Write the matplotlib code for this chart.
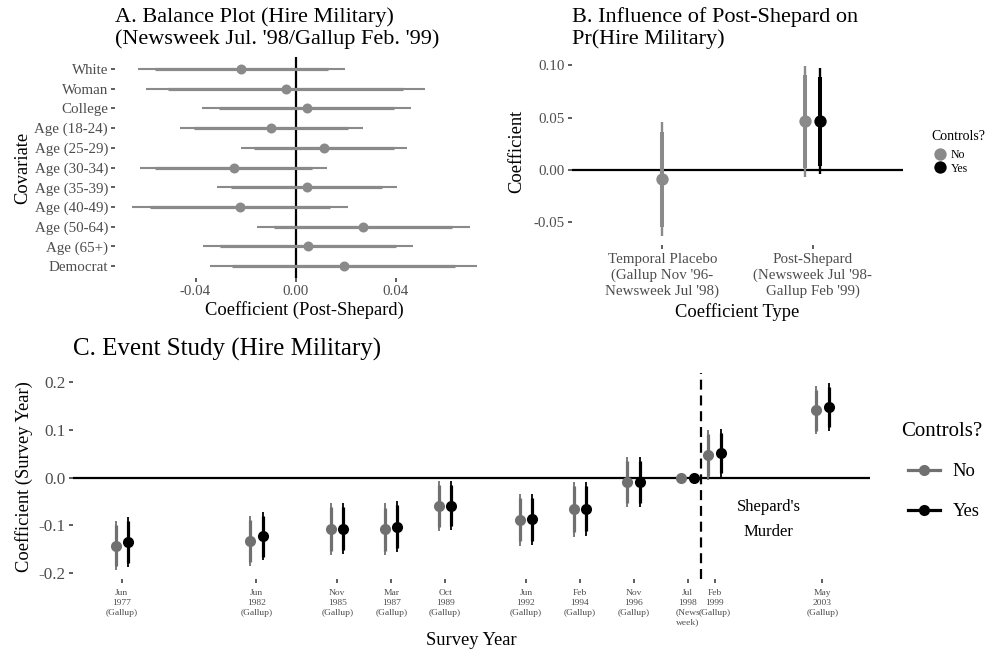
import numpy as np
import matplotlib
matplotlib.use("Agg")
import matplotlib.pyplot as plt
from matplotlib.lines import Line2D

plt.rcParams['font.family'] = ['Liberation Serif', 'DejaVu Serif']
plt.rcParams['axes.unicode_minus'] = False

GREY_A = '#8a8a8a'
GREY_C = '#707070'
TICK_GREY = '#4d4d4d'
Z90, Z95 = 1.645, 1.96

# Panel A: balance of covariates across the Jul '98 / Feb '99 surveys
covariates = ['White', 'Woman', 'College', 'Age (18-24)', 'Age (25-29)',
              'Age (30-34)', 'Age (35-39)', 'Age (40-49)', 'Age (50-64)',
              'Age (65+)', 'Democrat']
bal_est = [-0.0217, -0.0040, 0.0045, -0.0097, 0.0114, -0.0248, 0.0045,
           -0.0222, 0.0271, 0.0050, 0.0192]
bal_se = [0.0211, 0.0285, 0.0213, 0.0187, 0.0170, 0.0190, 0.0184,
          0.0220, 0.0217, 0.0215, 0.0272]

# Panel B: post-Shepard coefficient
coef_types = ["Temporal Placebo\n(Gallup Nov '96-\nNewsweek Jul '98)",
              "Post-Shepard\n(Newsweek Jul '98-\nGallup Feb '99)"]
inf_est_no = [-0.0090, 0.0465]
inf_se_no = [0.0278, 0.0272]
inf_est_yes = [np.nan, 0.0465]
inf_se_yes = [np.nan, 0.0258]

# Panel C: event study by survey
survey_year = [1977, 1982, 1985, 1987, 1989, 1992, 1994, 1996, 1998, 1999, 2003]
survey_labels = ['Jun\n1977\n(Gallup)', 'Jun\n1982\n(Gallup)',
                 'Nov\n1985\n(Gallup)', 'Mar\n1987\n(Gallup)',
                 'Oct\n1989\n(Gallup)', 'Jun\n1992\n(Gallup)',
                 'Feb\n1994\n(Gallup)', 'Nov\n1996\n(Gallup)',
                 'Jul\n1998\n(News\nweek)', 'Feb\n1999\n(Gallup)',
                 'May\n2003\n(Gallup)']
ev_est_no = [-0.1425, -0.1325, -0.1075, -0.1080, -0.0595, -0.0880,
             -0.0660, -0.0095, 0.0, 0.0470, 0.1412]
ev_se_no = [0.0259, 0.0264, 0.0276, 0.0275, 0.0266, 0.0277,
            0.0294, 0.0269, np.nan, 0.0264, 0.0259]
ev_est_yes = [-0.1352, -0.1225, -0.1070, -0.1030, -0.0590, -0.0875,
              -0.0650, -0.0100, 0.0, 0.0513, 0.1480]
ev_se_yes = [0.0264, 0.0260, 0.0272, 0.0273, 0.0262, 0.0273,
             0.0289, 0.0266, np.nan, 0.0258, 0.0259]
murder_year = 1998.5

W, H = 987, 655
fig = plt.figure(figsize=(W / 100, H / 100), dpi=100)


def px_axes(left, top, right, bottom):
    return fig.add_axes([left / W, 1 - bottom / H, (right - left) / W,
                         (bottom - top) / H])


def clean(ax):
    for s in ax.spines.values():
        s.set_visible(False)
    ax.tick_params(length=3, width=1.1, color='#333333', labelcolor=TICK_GREY,
                   labelsize=10.8, pad=2)


def pointrange(ax, pos, est, se, color, horizontal=False, ms=7.5,
               lw_in=2.3, lw_out=1.3):
    pos = np.asarray(pos, float)
    est = np.asarray(est, float)
    se = np.asarray(se, float)
    ok = ~np.isnan(se)
    lines = ax.hlines if horizontal else ax.vlines
    lines(pos[ok], est[ok] - Z95 * se[ok], est[ok] + Z95 * se[ok],
          color=color, lw=lw_out, zorder=2)
    lines(pos[ok], est[ok] - Z90 * se[ok], est[ok] + Z90 * se[ok],
          color=color, lw=lw_in, zorder=2)
    if horizontal:
        ax.plot(est, pos, 'o', color=color, ms=ms, mew=0, zorder=3)
    else:
        ax.plot(pos, est, 'o', color=color, ms=ms, mew=0, zorder=3)


# ---- A. balance plot
ax_a = px_axes(115, 57, 494, 278)
clean(ax_a)
rows = np.arange(len(covariates))
ax_a.axvline(0, color='black', lw=1.6, zorder=1)
pointrange(ax_a, rows, bal_est, bal_se, GREY_A, horizontal=True, ms=7.2,
           lw_in=2.3, lw_out=1.5)
ax_a.set_ylim(len(covariates) - 0.4, -0.6)
ax_a.margins(x=0.05)
ax_a.set_yticks(rows, covariates)
ax_a.set_xticks([-0.04, 0.0, 0.04], ['-0.04', '0.00', '0.04'])
ax_a.set_xlabel('Coefficient (Post-Shepard)', fontsize=13.3, labelpad=2)
ax_a.set_ylabel('Covariate', fontsize=13.3, labelpad=2)
ax_a.set_title("A. Balance Plot (Hire Military)\n(Newsweek Jul. '98/Gallup Feb. '99)",
               loc='left', fontsize=16, pad=9.5, linespacing=1.17)

# ---- B. influence of post-Shepard
ax_b = px_axes(572, 57, 903, 245)
clean(ax_b)
cats = np.arange(len(coef_types))
dodge_b = 0.05
has_yes = ~np.isnan(np.asarray(inf_est_yes))
pos_no = np.where(has_yes, cats - dodge_b, cats)
ax_b.axhline(0, color='black', lw=1.6, zorder=1)
pointrange(ax_b, pos_no, inf_est_no, inf_se_no, GREY_A, ms=8.9,
           lw_in=2.9, lw_out=1.7)
pointrange(ax_b, cats + dodge_b, inf_est_yes, inf_se_yes, 'black', ms=8.9,
           lw_in=2.9, lw_out=1.7)
ax_b.set_xlim(-0.6, 1.6)
ax_b.margins(y=0.05)
ax_b.set_xticks(cats, coef_types)
ax_b.set_yticks([-0.05, 0.0, 0.05, 0.10], ['-0.05', '0.00', '0.05', '0.10'])
ax_b.tick_params(axis='x', labelsize=10.8, pad=3)
for t in ax_b.get_xticklabels():
    t.set_linespacing(1.22)
ax_b.set_xlabel('Coefficient Type', fontsize=13.3, labelpad=4)
ax_b.set_ylabel('Coefficient', fontsize=13.3, labelpad=6)
ax_b.set_title('B. Influence of Post-Shepard on\nPr(Hire Military)',
               loc='left', fontsize=16, pad=9.5, linespacing=1.17)
fig.text(931 / W, 1 - 136 / H, 'Controls?', fontsize=10, va='center')
ax_b.legend(
    handles=[Line2D([], [], marker='o', ls='none', color=GREY_A, ms=8.9, mew=0),
             Line2D([], [], marker='o', ls='none', color='black', ms=8.9, mew=0)],
    labels=['No', 'Yes'], loc='upper left',
    bbox_to_anchor=(929 / W, 1 - 143 / H), bbox_transform=fig.transFigure,
    frameon=False, fontsize=8.5, handlelength=0.9, handleheight=1.0,
    handletextpad=0.45, labelspacing=0.12, borderpad=0)

# ---- C. event study
ax_c = px_axes(72.7, 373.3, 870, 579.3)
clean(ax_c)
years = np.asarray(survey_year, float)
dodge_c = 0.23
ax_c.axhline(0, color='black', lw=1.6, zorder=1)
ax_c.axvline(murder_year, color='black', lw=1.6, ls=(0, (4.5, 2.6)), zorder=1)
pointrange(ax_c, years - dodge_c, ev_est_no, ev_se_no, GREY_C, ms=8,
           lw_in=2.3, lw_out=1.3)
pointrange(ax_c, years + dodge_c, ev_est_yes, ev_se_yes, 'black', ms=8,
           lw_in=2.3, lw_out=1.3)
ax_c.set_xlim(1975.18, 2004.77)
ax_c.margins(y=0.05)
ax_c.set_xticks(years, survey_labels)
ax_c.set_yticks([-0.2, -0.1, 0.0, 0.1, 0.2])
ax_c.tick_params(axis='y', labelsize=12.3)
ax_c.tick_params(axis='x', labelsize=6.8, pad=4)
for t in ax_c.get_xticklabels():
    t.set_linespacing(1.3)
ax_c.text(2001, -0.087, "Shepard's\nMurder", ha='center', va='center',
          fontsize=12, linespacing=1.75)
ax_c.set_xlabel('Survey Year', fontsize=13.3, labelpad=4)
ax_c.set_ylabel('Coefficient (Survey Year)', fontsize=13.3, labelpad=4)
ax_c.set_title('C. Event Study (Hire Military)', loc='left', fontsize=18,
               pad=12.5)
fig.text(901 / W, 1 - 432 / H, 'Controls?', fontsize=15, va='center')
ax_c.legend(
    handles=[Line2D([], [], marker='o', color=GREY_C, lw=2.3, ms=8, mew=0),
             Line2D([], [], marker='o', color='black', lw=2.3, ms=8, mew=0)],
    labels=['No', 'Yes'], loc='upper left',
    bbox_to_anchor=(899 / W, 1 - 454 / H), bbox_transform=fig.transFigure,
    frameon=False, fontsize=13.3, handlelength=1.7,
    handletextpad=0.7, labelspacing=1.25, borderpad=0)

fig.savefig('out.png', dpi=100)
